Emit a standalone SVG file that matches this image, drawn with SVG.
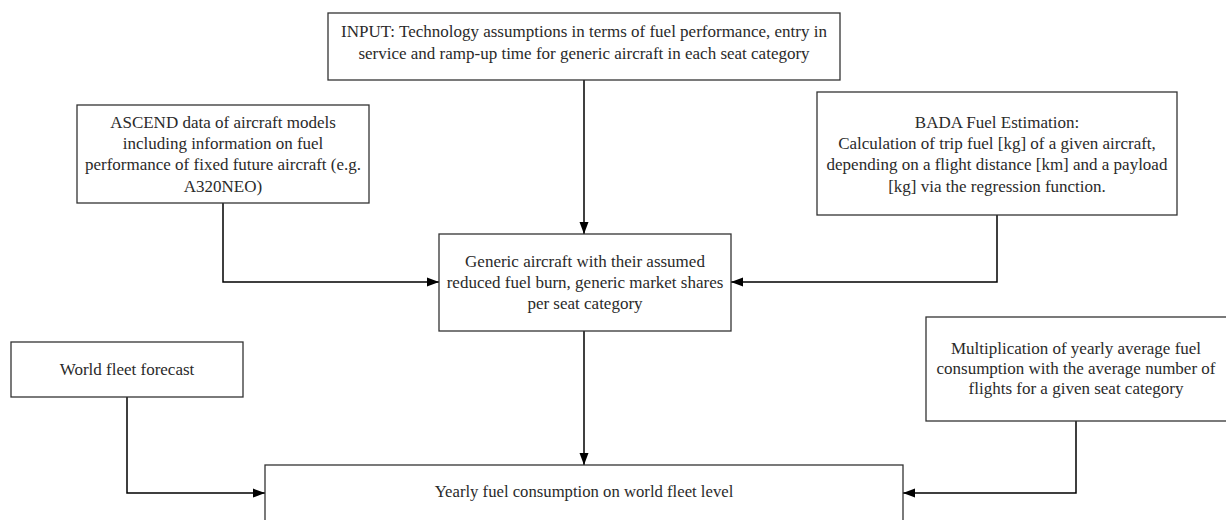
<svg xmlns="http://www.w3.org/2000/svg" width="1226" height="520" viewBox="0 0 1226 520">
<defs>
<marker id="arr" viewBox="0 0 12 10" refX="12" refY="5" markerWidth="12" markerHeight="10" markerUnits="userSpaceOnUse" orient="auto">
<path d="M0,0.5 L12,5 L0,9.5 Z" fill="#000"/>
</marker>
</defs>
<style>
.box{fill:#fff;stroke:#333;stroke-width:1.3}
.t{font-family:"Liberation Serif",serif;font-size:17px;fill:#2a2a2a;text-anchor:middle}
.t2{font-family:"Liberation Serif",serif;font-size:16.7px;fill:#2a2a2a;text-anchor:middle}
.c{fill:none;stroke:#000;stroke-width:1.5;marker-end:url(#arr)}
</style>
<rect width="1226" height="520" fill="#fff"/>
<g id="connectors">
<path class="c" d="M584,80 V234"/>
<path class="c" d="M223,203 V282 H439"/>
<path class="c" d="M997,215 V282 H731"/>
<path class="c" d="M584,331 V465"/>
<path class="c" d="M127,397 V493 H265"/>
<path class="c" d="M1076,421 V493 H903"/>
</g>
<g id="input">
<rect class="box" x="328" y="13" width="512" height="67"/>
<text class="t" x="584" y="37">INPUT: Technology assumptions in terms of fuel performance, entry in</text>
<text class="t" x="584" y="59">service and ramp-up time for generic aircraft in each seat category</text>
</g>
<g id="ascend">
<rect class="box" x="77" y="105" width="292" height="98"/>
<text class="t" x="223" y="128">ASCEND data of aircraft models</text>
<text class="t" x="223" y="149">including information on fuel</text>
<text class="t" x="223" y="170">performance of fixed future aircraft (e.g.</text>
<text class="t" x="223" y="192">A320NEO)</text>
</g>
<g id="bada">
<rect class="box" x="817" y="92" width="360" height="123"/>
<text class="t" x="997" y="128">BADA Fuel Estimation:</text>
<text class="t" x="997" y="149">Calculation of trip fuel [kg] of a given aircraft,</text>
<text class="t" x="997" y="170">depending on a flight distance [km] and a payload</text>
<text class="t" x="997" y="192">[kg] via the regression function.</text>
</g>
<g id="generic">
<rect class="box" x="439" y="234" width="292" height="97"/>
<text class="t" x="585" y="267">Generic aircraft with their assumed</text>
<text class="t" x="585" y="288">reduced fuel burn, generic market shares</text>
<text class="t" x="585" y="309">per seat category</text>
</g>
<g id="worldfleet">
<rect class="box" x="11" y="342" width="232" height="55"/>
<text class="t" x="127" y="375">World fleet forecast</text>
</g>
<g id="multiplication">
<rect class="box" x="926" y="317" width="310" height="104"/>
<text class="t" x="1076" y="354">Multiplication of yearly average fuel</text>
<text class="t" x="1076" y="374">consumption with the average number of</text>
<text class="t" x="1076" y="394">flights for a given seat category</text>
</g>
<g id="yearly">
<rect class="box" x="265" y="465" width="638" height="70"/>
<text class="t2" x="584" y="497">Yearly fuel consumption on world fleet level</text>
</g>
</svg>
